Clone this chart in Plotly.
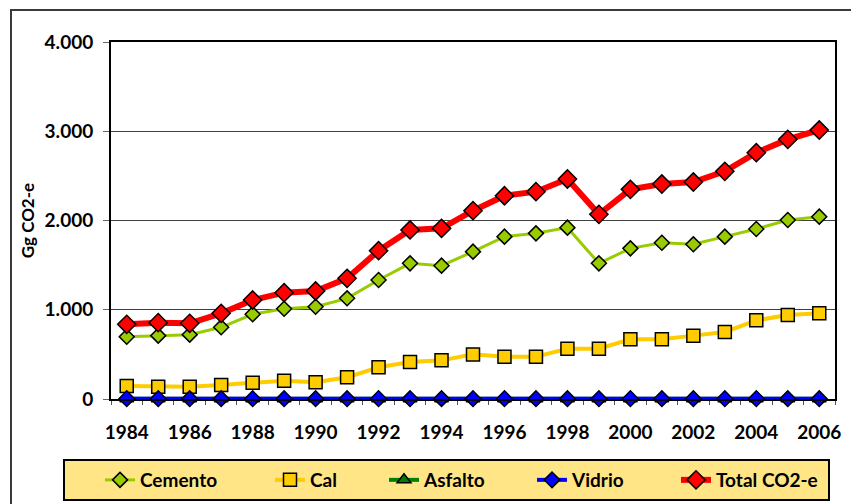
import plotly.graph_objects as go

# Years and series (Gg CO2-e)
years = list(range(1984, 2007))

cemento = [698, 710, 721, 803, 949, 1012, 1034, 1128, 1333, 1520, 1494, 1651,
           1819, 1856, 1920, 1520, 1688, 1751, 1733, 1819, 1905, 2006, 2043]
cal = [146, 138, 138, 157, 183, 205, 187, 243, 355, 415, 433, 500,
       474, 474, 564, 564, 669, 669, 710, 751, 881, 941, 960]
asfalto = [3, 3, 3, 3, 3, 3, 3, 3, 3, 3, 3, 3,
           3, 3, 3, 3, 3, 3, 3, 3, 3, 3, 3]
vidrio = [4, 4, 4, 4, 4, 4, 4, 4, 4, 4, 4, 4,
          4, 4, 4, 4, 4, 4, 4, 4, 4, 4, 4]
total = [837, 855, 848, 960, 1109, 1191, 1210, 1352, 1662, 1894, 1912, 2110,
         2277, 2323, 2465, 2069, 2349, 2409, 2431, 2551, 2760, 2909, 3014]

FONT = "Lato"
W, H = 851, 504
L, R, T, B = 111, 16, 42, 105
pw, ph = W - L - R, H - T - B

series = [
    ("Cemento", cemento, "#99CC00", 3, "diamond", 11.5, "#99CC00"),
    ("Cal", cal, "#FFCC00", 4, "square", 13, "#FFCC00"),
    ("Asfalto", asfalto, "#008000", 4, "triangle-up", 12, "#008000"),
    ("Vidrio", vidrio, "#0000FF", 4, "diamond", 12, "#0000FF"),
    ("Total CO2-e", total, "#FF0000", 6, "diamond", 14, "#FF0000"),
]

# text start x (px) for each legend entry
legend_text_x = [140, 310, 424, 572, 716]

fig = go.Figure()
for i, (name, vals, col, lw, sym, ms, fill) in enumerate(series):
    lg = "legend" if i == 0 else f"legend{i + 1}"
    fig.add_trace(go.Scatter(
        x=years, y=vals, name=name, mode="lines+markers",
        line=dict(color=col, width=lw),
        marker=dict(symbol=sym, size=ms, color=fill,
                    line=dict(color="black", width=1.5)),
        cliponaxis=False, legend=lg, showlegend=True,
    ))

legend_font = dict(family=FONT, size=19, color="black", weight="bold")
for i, tx in enumerate(legend_text_x):
    key = "legend" if i == 0 else f"legend{i + 1}"
    fig.update_layout({key: dict(
        x=(tx - 40) / W, y=1 - 480 / H, xref="container", yref="container",
        xanchor="left", yanchor="middle", orientation="h",
        bgcolor="rgba(0,0,0,0)", borderwidth=0, font=legend_font,
    )})

def px_x(p):
    return (p - L) / pw

def px_y(p):
    return (H - B - p) / ph

shapes = [
    # outer chart frame
    dict(type="rect", xref="paper", yref="paper",
         x0=px_x(11), x1=px_x(870), y0=px_y(520), y1=px_y(10),
         line=dict(color="#3a3a3a", width=2), fillcolor="rgba(0,0,0,0)", layer="below"),
    # legend box
    dict(type="rect", xref="paper", yref="paper",
         x0=px_x(64), x1=px_x(829), y0=px_y(500), y1=px_y(460),
         line=dict(color="black", width=2), fillcolor="#FFE585", layer="below"),
]

fig.update_layout(
    width=W, height=H, showlegend=True,
    margin=dict(l=L, r=R, t=T, b=B, autoexpand=False),
    plot_bgcolor="white", paper_bgcolor="white",
    separators=",.",
    shapes=shapes,
    xaxis=dict(
        range=[1983.5, 2006.5], tickmode="array",
        tickvals=years[::2], ticks="", ticklabelstandoff=15,
        tickfont=dict(family=FONT, size=19, color="black", weight="bold"),
        showgrid=False, zeroline=False,
        showline=True, linecolor="black", linewidth=2, mirror=True,
        minor=dict(tickmode="linear", tick0=1983.5, dtick=1, ticks="outside",
                   ticklen=4, tickcolor="#555", showgrid=False),
    ),
    yaxis=dict(
        range=[0, 4000], dtick=1000, tickformat=",d",
        ticks="outside", ticklen=6, tickcolor="#666", ticklabelstandoff=6,
        tickfont=dict(family=FONT, size=19, color="black", weight="bold"),
        showgrid=True, gridcolor="#404040", gridwidth=1, zeroline=False,
        showline=True, linecolor="black", linewidth=2, mirror=True,
        title=dict(text="Gg CO2-e", standoff=6,
                   font=dict(family=FONT, size=17, color="black", weight="bold")),
    ),
)

fig.write_html("out.html", config={"displayModeBar": False},
               post_script="document.body.style.margin='0';")
